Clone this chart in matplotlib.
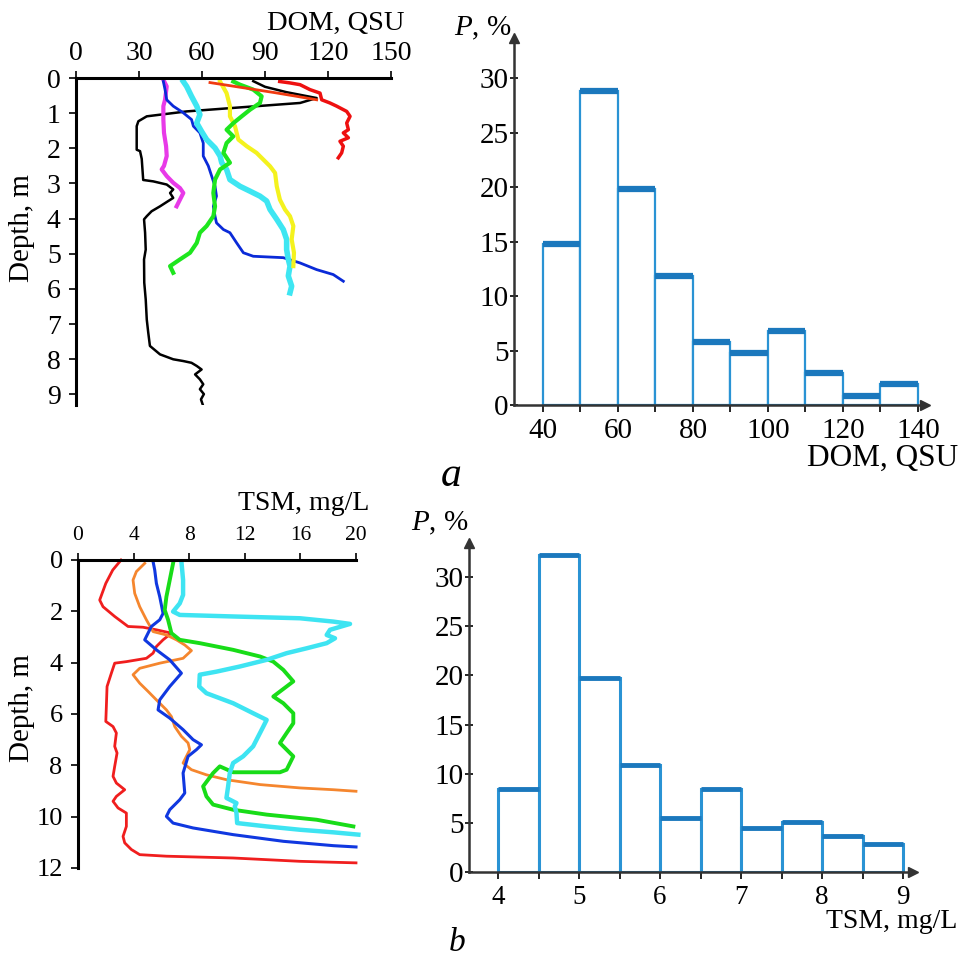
import matplotlib
matplotlib.use('Agg')
import matplotlib.pyplot as plt
import numpy as np

plt.rcParams['font.family'] = ['Liberation Serif', 'DejaVu Serif']
plt.rcParams['mathtext.fontset'] = 'custom'
plt.rcParams['mathtext.rm'] = 'Liberation Serif'
plt.rcParams['mathtext.it'] = 'Liberation Serif:italic'

# ---------------- DATA ----------------
# (a) DOM profiles: value (QSU), depth (m)
dom_black_val = [84.4, 90, 100, 114.6, 106.7, 75, 52.7, 33.7, 29.7, 28.9, 28.9, 30.5, 31.3, 32, 36.8, 43.2, 46.3, 44.8,
                 46.3, 43.9, 40, 36, 33.7, 32.4, 32.9, 33.2, 32.4, 32.5, 33.2, 33.7, 34.4, 35.2, 40, 46.3, 51.1, 55,
                 57.5, 59.8, 56.7, 59, 60.6, 59, 60.9, 59.5, 60.3]
dom_black_dep = [0.09, 0.25, 0.4, 0.57, 0.71, 0.85, 0.95, 1.09, 1.23, 1.37, 2.04, 2.08, 2.3, 2.9, 2.94, 3.03, 3.17, 3.27,
                 3.41, 3.5, 3.65, 3.79, 3.93, 4.02, 4.4, 4.88, 5.16, 5.82, 6.3, 6.87, 7.24, 7.62, 7.86, 8.0, 8.05, 8.1,
                 8.19, 8.29, 8.43, 8.57, 8.71, 8.85, 8.99, 9.14, 9.28]
dom_red_a_val = [63.8, 80, 95, 105, 114.6]
dom_red_a_dep = [0.13, 0.28, 0.42, 0.52, 0.62]
dom_red_b_val = [97, 101.9, 106.7, 111.4, 116.2, 117, 120.9, 124.1, 128.9, 130.5, 128.9, 129.7, 127.3, 129.7, 125.7,
                 127.3, 126.5, 124.9]
dom_red_b_dep = [0.1, 0.14, 0.19, 0.33, 0.43, 0.62, 0.71, 0.8, 0.95, 1.09, 1.28, 1.47, 1.56, 1.7, 1.8, 1.94, 2.13, 2.27]
dom_mag_val = [41.6, 43.2, 42.4, 41.6, 41.6, 41.9, 42.9, 43.2, 41.9, 40.8, 43.2, 46.3, 49.5, 51.1, 49.5, 47.9]
dom_mag_dep = [0.05, 0.24, 0.62, 0.8, 1.18, 1.56, 1.94, 2.22, 2.5, 2.6, 2.79, 2.98, 3.13, 3.27, 3.46, 3.65]
dom_blue_val = [41.6, 42.4, 43.2, 46.3, 51.1, 55, 55.9, 59, 60.6, 60.6, 63, 64.6, 66.2, 66.9, 65.4, 66.2, 66.9, 70.2,
                73.3, 76.5, 79.7, 84.4, 98.7, 106.7, 114.6, 122.5, 127.3]
dom_blue_dep = [0.1, 0.33, 0.62, 0.8, 0.99, 1.18, 1.37, 1.56, 1.85, 2.22, 2.5, 2.79, 3.08, 3.36, 3.65, 3.93, 4.12, 4.31,
                4.4, 4.69, 4.97, 5.07, 5.11, 5.26, 5.45, 5.59, 5.78]
dom_cyan_val = [51.1, 52.7, 55, 57.5, 59, 57.5, 59.8, 62.2, 66.2, 68.6, 69.4, 71.7, 73.3, 78.1, 82.9, 87.6, 90.8, 92.4,
                95.6, 98.7, 100.3, 100.3, 101.1, 101.9, 101.1, 102.7, 101.9]
dom_cyan_dep = [0.1, 0.24, 0.52, 0.8, 1.04, 1.28, 1.52, 1.75, 1.99, 2.22, 2.41, 2.6, 2.89, 3.08, 3.22, 3.36, 3.5, 3.74,
                4.02, 4.31, 4.59, 4.88, 5.16, 5.35, 5.63, 5.92, 6.11]
dom_yel_val = [68.6, 71.7, 73.3, 73.3, 75.7, 77.3, 81.3, 86, 89.2, 92.4, 94.8, 95.6, 97.1, 99.5, 101.9, 103.5, 102.7,
               103.8, 103.5]
dom_yel_dep = [0.1, 0.43, 0.8, 1.09, 1.37, 1.75, 1.94, 2.13, 2.32, 2.51, 2.7, 3.08, 3.46, 3.74, 3.93, 4.21, 4.59, 4.97,
               5.35]
dom_grn_val = [74.9, 78.1, 84.4, 88.4, 87.6, 82.9, 78.9, 75, 71.7, 74.9, 71.7, 70.2, 73.3, 68.6, 66.2, 65.4, 66.2, 65.4,
               62.2, 59, 57.5, 54.3, 49.5, 44.8, 46.3]
dom_grn_dep = [0.1, 0.19, 0.33, 0.52, 0.71, 0.9, 1.09, 1.28, 1.47, 1.66, 1.85, 2.13, 2.41, 2.6, 2.89, 3.27, 3.65, 3.93,
               4.21, 4.4, 4.69, 4.97, 5.16, 5.35, 5.54]

# (a) DOM histogram
dom_bins = [40, 50, 60, 70, 80, 90, 100, 110, 120, 130, 140]
dom_pct = [14.8, 28.8, 19.8, 11.8, 5.8, 4.8, 6.8, 2.9, 0.8, 1.9]

# (b) TSM profiles: value (mg/L), depth (m)
tsm_red_val = [3.1, 2.5, 2.0, 1.56, 1.8, 2.64, 3.6, 4.68, 5.64, 6.72, 6.12, 5.64, 5.4, 4.92, 3.48, 2.64, 2.4, 2.09, 2.04,
               2.0, 2.52, 2.76, 2.64, 2.81, 2.64, 2.52, 2.76, 3.36, 2.76, 2.52, 2.88, 3.48, 3.48, 3.24, 3.36, 3.84, 4.44,
               6.36, 11.16, 15.97, 20.0]
tsm_red_dep = [0.0, 0.39, 0.91, 1.56, 1.82, 2.2, 2.59, 2.62, 2.72, 2.85, 3.11, 3.37, 3.63, 3.83, 3.96, 4.02, 4.41, 4.93,
               5.71, 6.29, 6.49, 6.74, 7.26, 7.52, 8.04, 8.43, 8.69, 8.95, 9.21, 9.4, 9.66, 9.86, 10.38, 10.77, 11.02,
               11.28, 11.48, 11.54, 11.61, 11.74, 11.8]
tsm_org_val = [4.8, 4.2, 3.96, 4.08, 4.44, 4.92, 5.4, 6.36, 7.08, 7.68, 8.16, 7.56, 5.88, 4.44, 3.96, 4.44, 5.04, 5.64,
               6.36, 6.72, 6.96, 7.44, 7.92, 8.04, 7.56, 8.16, 9.24, 10.68, 13.1, 15.97, 18.37, 20.0]
tsm_org_dep = [0.13, 0.45, 0.78, 1.3, 1.82, 2.33, 2.79, 2.92, 3.11, 3.31, 3.53, 3.83, 4.02, 4.22, 4.47, 4.8, 5.12, 5.45,
               5.84, 6.1, 6.49, 6.87, 7.13, 7.39, 7.91, 8.17, 8.37, 8.56, 8.75, 8.88, 8.95, 9.01]
tsm_blue_val = [5.4, 5.52, 5.64, 5.88, 6.12, 5.88, 5.28, 5.04, 4.8, 5.64, 6.6, 7.44, 6.6, 5.88, 5.76, 6.6, 7.56, 8.28,
                8.88, 8.52, 7.92, 7.56, 7.68, 7.32, 6.6, 6.36, 6.84, 8.28, 11.16, 14.77, 18.37, 20.0]
tsm_blue_dep = [0.06, 0.39, 0.91, 1.43, 2.08, 2.33, 2.59, 2.85, 3.11, 3.5, 3.89, 4.41, 4.93, 5.45, 5.84, 6.16, 6.61, 7.0,
                7.2, 7.39, 7.65, 8.3, 9.08, 9.34, 9.73, 9.99, 10.25, 10.44, 10.7, 10.96, 11.13, 11.18]
tsm_grn_val = [6.84, 6.6, 6.36, 6.24, 6.48, 6.72, 7.32, 8.76, 11.16, 13.1, 14.05, 14.77, 15.49, 14.05, 14.77, 15.49,
               15.49, 15.01, 14.53, 15.01, 15.49, 15.01, 14.53, 11.16, 10.2, 9.72, 9.0, 9.24, 9.72, 11.16, 13.57, 17.17,
               19.81]
tsm_grn_dep = [0.13, 0.78, 1.43, 1.95, 2.33, 2.85, 3.11, 3.24, 3.5, 3.76, 3.96, 4.28, 4.73, 5.32, 5.58, 5.97, 6.36, 6.74,
               7.13, 7.39, 7.65, 8.17, 8.27, 8.27, 8.04, 8.3, 8.82, 9.21, 9.53, 9.73, 9.92, 10.12, 10.38]
tsm_cyan_val = [7.44, 7.56, 7.56, 7.32, 6.84, 7.32, 11.16, 15.97, 18.37, 19.57, 18.13, 17.89, 18.49, 17.89, 16.45, 15.01,
                13.57, 11.64, 9.96, 8.76, 8.72, 9.24, 11.16, 12.6, 13.57, 13.33, 12.97, 12.6, 11.88, 11.16, 10.92, 10.8,
                10.68, 11.4, 11.28, 11.4, 11.45, 13.57, 15.97, 18.37, 20.17]
tsm_cyan_dep = [0.06, 0.78, 1.36, 1.69, 2.01, 2.14, 2.2, 2.27, 2.4, 2.49, 2.72, 2.92, 3.05, 3.24, 3.44, 3.63, 3.89, 4.15,
                4.35, 4.47, 4.93, 5.19, 5.58, 5.97, 6.23, 6.49, 6.87, 7.26, 7.65, 7.91, 8.3, 8.82, 9.27, 9.47, 9.6, 9.86,
                10.25, 10.38, 10.51, 10.61, 10.7]

# (b) TSM histogram
tsm_bins = [4.0, 4.5, 5.0, 5.5, 6.0, 6.5, 7.0, 7.5, 8.0, 8.5, 9.0]
tsm_pct = [8.4, 32.2, 19.7, 10.9, 5.5, 8.4, 4.5, 5.1, 3.7, 2.8]

# ---------------- FIGURE ----------------
W, H = 959, 958
fig = plt.figure(figsize=(W / 100, H / 100), dpi=100)


def ax_px(left, top, right, bottom):
    return fig.add_axes([left / W, 1 - bottom / H, (right - left) / W, (bottom - top) / H])


def ftext(x, y, s, **kw):
    fig.text(x / W, 1 - y / H, s, **kw)


def profile_axes(ax, spine_col='black'):
    ax.set_facecolor('none')
    for s in ['right', 'bottom']:
        ax.spines[s].set_visible(False)
    for s in ['top', 'left']:
        ax.spines[s].set_linewidth(2.2)
        ax.spines[s].set_color(spine_col)
    ax.xaxis.set_ticks_position('top')
    ax.xaxis.set_label_position('top')


# ---- (a) profiles ----
ax1 = ax_px(76, 78, 391, 405)
profile_axes(ax1)
ax1.set_xlim(0, 150)
ax1.set_ylim(9.3, 0)
ax1.set_xticks([0, 30, 60, 90, 120, 150])
ax1.set_yticks(range(0, 10))
ax1.tick_params(axis='x', direction='out', length=5, width=1.2, pad=4, labelsize=20)
ax1.tick_params(axis='y', direction='out', length=5, width=1.2, pad=6, labelsize=20)
ax1.plot(dom_black_val, dom_black_dep, color='black', lw=1.8)
ax1.plot(dom_mag_val, dom_mag_dep, color='#e83ae8', lw=3)
ax1.plot(dom_blue_val, dom_blue_dep, color='#0a2ad8', lw=2)
ax1.plot(dom_cyan_val, dom_cyan_dep, color='#3ee6f2', lw=4)
ax1.plot(dom_yel_val, dom_yel_dep, color='#f4f21e', lw=3)
ax1.plot(dom_grn_val, dom_grn_dep, color='#1ee61e', lw=3)
ax1.plot(dom_red_a_val, dom_red_a_dep, color='#f03a10', lw=2)
ax1.plot(dom_red_b_val, dom_red_b_dep, color='#ee1010', lw=2.5)
ftext(336, 23, 'DOM, QSU', ha='center', va='center', fontsize=20.5)
ftext(22, 228, 'Depth, m', ha='center', va='center', rotation=90, fontsize=21)


def hist_axes(ax, bins, pct, xlim, ylim, major, minor, top_lw, side_lw, xlabsize):
    ax.set_facecolor('none')
    for s in ['right', 'top']:
        ax.spines[s].set_visible(False)
    for s in ['left', 'bottom']:
        ax.spines[s].set_linewidth(1.8)
        ax.spines[s].set_color('#333333')
    ax.set_xlim(*xlim)
    ax.set_ylim(*ylim)
    lefts = bins[:-1]
    widths = np.diff(bins)
    ax.bar(lefts, pct, width=widths, align='edge', facecolor='white', edgecolor='#2a93d4', lw=side_lw, zorder=2)
    ax.hlines(pct, lefts, bins[1:], color='#1b78bd', lw=top_lw, zorder=3)
    ax.set_xticks(major)
    ax.set_xticks(minor, minor=True)
    ax.set_yticks([0, 5, 10, 15, 20, 25, 30])
    ax.tick_params(axis='x', which='both', direction='out', length=5, width=1.2, pad=4, labelsize=xlabsize)
    ax.tick_params(axis='y', direction='inout', length=6, width=1.2, pad=1, labelsize=21)
    # arrow heads on the axes
    ax.plot([1], [0], marker='>', ms=7, color='#333333', transform=ax.transAxes, clip_on=False)
    ax.plot([0], [1], marker='^', ms=7, color='#333333', transform=ax.transAxes, clip_on=False)


# ---- (a) histogram ----
ax2 = ax_px(514, 38, 925, 405)
hist_axes(ax2, dom_bins, dom_pct, (32.27, 141.87), (0, 33.67),
          [40, 60, 80, 100, 120, 140], [50, 70, 90, 110, 130], 4.5, 1.6, 21)
ftext(483, 28, r'$P$, %', ha='center', va='center', fontsize=21)
ftext(958, 458, 'DOM, QSU', ha='right', va='center', fontsize=22.5)
ftext(451, 476, 'a', ha='center', va='center', fontsize=30, style='italic')

# ---- (b) profiles ----
ax3 = ax_px(78, 560, 356, 868)
profile_axes(ax3)
ax3.set_xlim(0, 20)
ax3.set_ylim(12, 0)
ax3.set_xticks([0, 4, 8, 12, 16, 20])
ax3.set_yticks(range(0, 13, 2))
ax3.tick_params(axis='x', direction='out', length=5, width=1.2, pad=6, labelsize=15.5)
ax3.tick_params(axis='y', direction='out', length=5, width=1.2, pad=6, labelsize=19)
ax3.plot(tsm_red_val, tsm_red_dep, color='#f01e1e', lw=2, clip_on=False)
ax3.plot(tsm_org_val, tsm_org_dep, color='#f5862e', lw=2, clip_on=False)
ax3.plot(tsm_blue_val, tsm_blue_dep, color='#1038e0', lw=2.2, clip_on=False)
ax3.plot(tsm_grn_val, tsm_grn_dep, color='#18dc18', lw=2.8, clip_on=False)
ax3.plot(tsm_cyan_val, tsm_cyan_dep, color='#3ee4f2', lw=3.2, clip_on=False)
ftext(304, 504, 'TSM, mg/L', ha='center', va='center', fontsize=20)
ftext(22, 708, 'Depth, m', ha='center', va='center', rotation=90, fontsize=21)

# ---- (b) histogram ----
ax4 = ax_px(469, 543, 913, 872)
hist_axes(ax4, tsm_bins, tsm_pct, (3.642, 9.123), (0, 33.46),
          [4, 5, 6, 7, 8, 9], [4.5, 5.5, 6.5, 7.5, 8.5], 3.5, 2.2, 19.5)
ftext(440, 523, r'$P$, %', ha='center', va='center', fontsize=21)
ftext(957, 921, 'TSM, mg/L', ha='right', va='center', fontsize=20)
ftext(457, 943, 'b', ha='center', va='center', fontsize=24, style='italic')

fig.savefig('out.png', dpi=100, facecolor='white')
